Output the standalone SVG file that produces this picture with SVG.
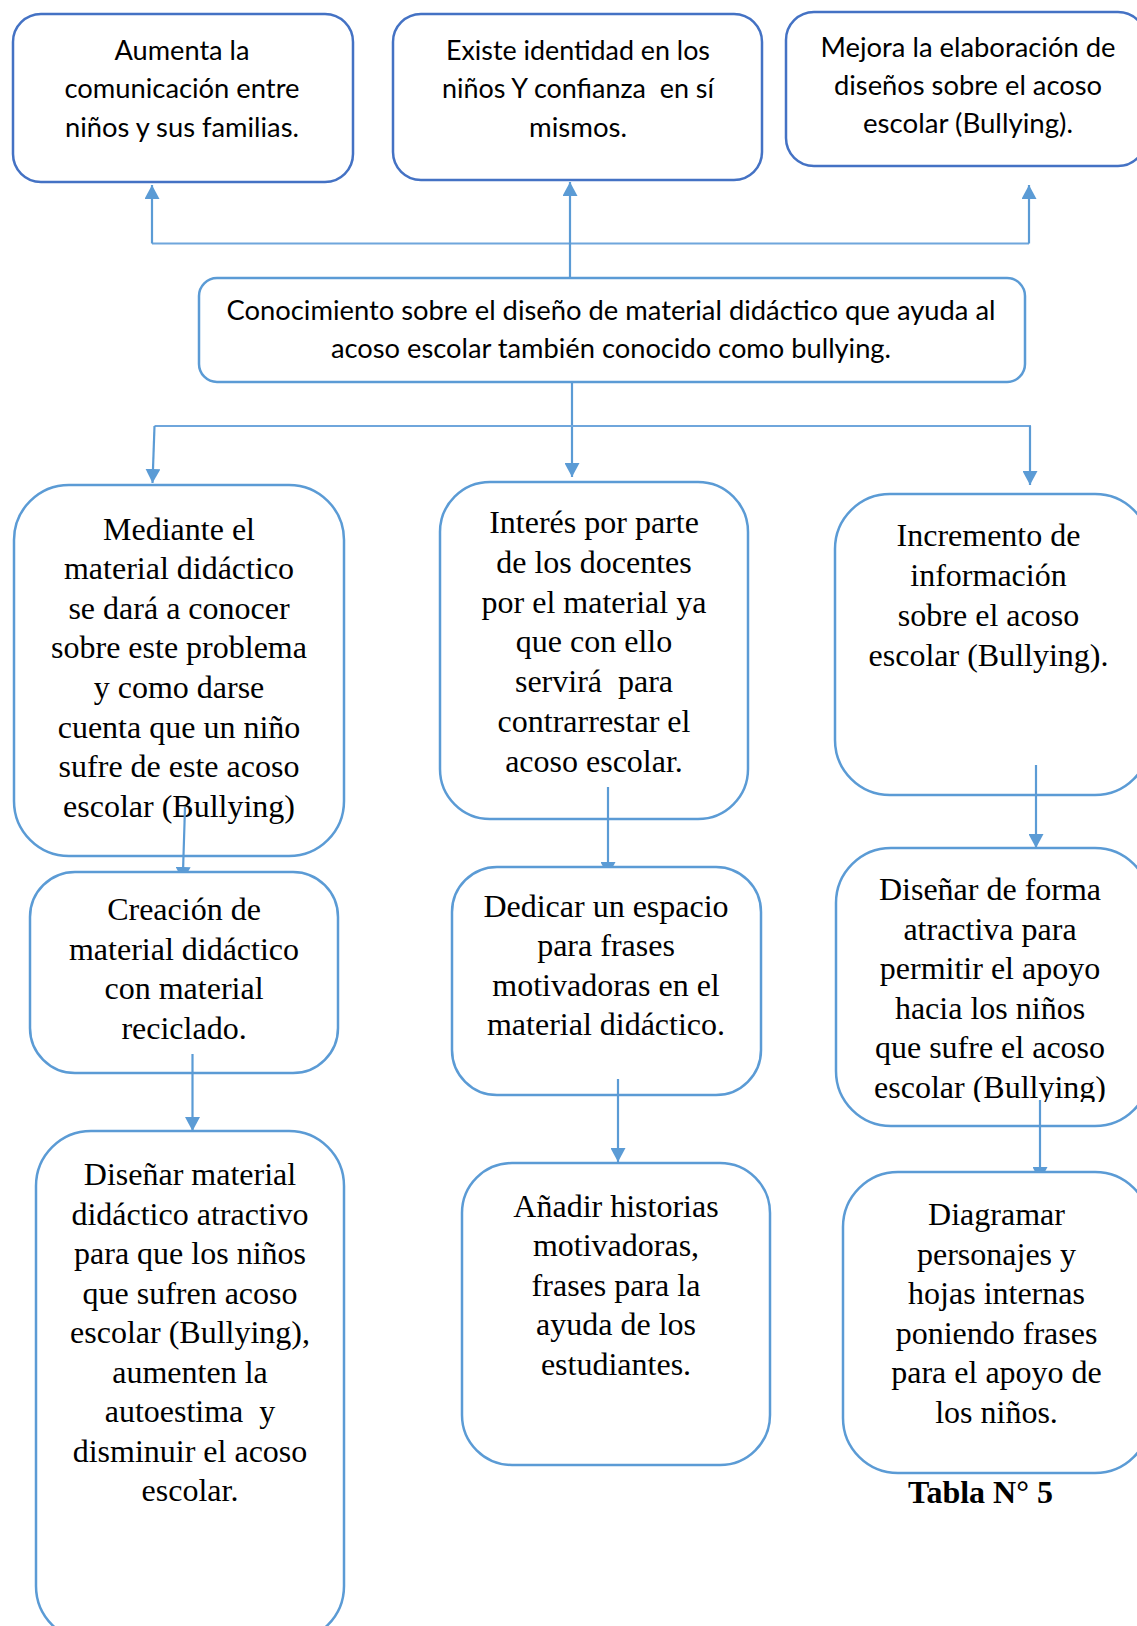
<svg xmlns="http://www.w3.org/2000/svg" width="1137" height="1626" viewBox="0 0 1137 1626">
<style>
.top{fill:#fff;stroke:#4472C4;stroke-width:2.5}
.box{fill:#fff;stroke:#5B9BD5;stroke-width:2.5}
.sans{font-family:Lato,"Liberation Sans",sans-serif;font-size:26px;fill:#000;text-anchor:middle}
.serif{font-family:"Liberation Serif","Times New Roman",serif;font-size:32px;fill:#000;text-anchor:middle}
.bold{font-family:"Liberation Serif","Times New Roman",serif;font-size:32px;font-weight:bold;fill:#000;text-anchor:middle}
.con{fill:none;stroke:#5B9BD5;stroke-width:2.2}
.thin{fill:none;stroke:#6FA6DC;stroke-width:1.8}
</style>
<defs>
<marker id="arr" markerUnits="userSpaceOnUse" markerWidth="14" markerHeight="15" viewBox="0 0 14 15" refX="14" refY="7.5" orient="auto">
<path d="M0,0 L14,7.5 L0,15 z" fill="#5B9BD5"/>
</marker>
<marker id="cut" markerUnits="userSpaceOnUse" markerWidth="5" markerHeight="15" viewBox="0 0 5 15" refX="5" refY="7.5" orient="auto">
<path d="M0,0 L5,2.7 L5,12.3 L0,15 z" fill="#5B9BD5"/>
</marker>
<clipPath id="clipForma"><rect x="830" y="840" width="320" height="262"/></clipPath>
</defs>

<g id="n-aumenta">
<rect class="top" x="13" y="14" width="340" height="168" rx="28"/>
<text class="sans" x="182" y="60" textLength="135" lengthAdjust="spacingAndGlyphs">Aumenta la</text>
<text class="sans" x="182" y="98.3" textLength="235" lengthAdjust="spacingAndGlyphs">comunicación entre</text>
<text class="sans" x="182" y="136.7" textLength="234" lengthAdjust="spacingAndGlyphs">niños y sus familias.</text>
</g>

<g id="n-existe">
<rect class="top" x="393" y="14" width="369" height="166" rx="28"/>
<text class="sans" x="578" y="60" textLength="264" lengthAdjust="spacingAndGlyphs">Existe identidad en los</text>
<text class="sans" x="578" y="98.3" textLength="272" lengthAdjust="spacingAndGlyphs" xml:space="preserve">niños Y confianza  en sí</text>
<text class="sans" x="578" y="136.7" textLength="98" lengthAdjust="spacingAndGlyphs">mismos.</text>
</g>

<g id="n-mejora">
<rect class="top" x="786" y="12" width="360" height="154" rx="28"/>
<text class="sans" x="968" y="56.7" textLength="295" lengthAdjust="spacingAndGlyphs">Mejora la elaboración de</text>
<text class="sans" x="968" y="95" textLength="268" lengthAdjust="spacingAndGlyphs">diseños sobre el acoso</text>
<text class="sans" x="968" y="133.3" textLength="210" lengthAdjust="spacingAndGlyphs">escolar (Bullying).</text>
</g>

<g id="n-conocimiento">
<rect class="box" x="199" y="278" width="826" height="104" rx="18"/>
<text class="sans" x="611" y="320" textLength="769" lengthAdjust="spacingAndGlyphs">Conocimiento sobre el diseño de material didáctico que ayuda al</text>
<text class="sans" x="611" y="358.3" textLength="560" lengthAdjust="spacingAndGlyphs">acoso escolar también conocido como bullying.</text>
</g>

<g id="n-mediante">
<rect class="box" x="14" y="485" width="330" height="371" rx="55"/>
<text class="serif" x="179" y="539.5">Mediante el</text>
<text class="serif" x="179" y="579.1">material didáctico</text>
<text class="serif" x="179" y="618.7">se dará a conocer</text>
<text class="serif" x="179" y="658.3">sobre este problema</text>
<text class="serif" x="179" y="697.9">y como darse</text>
<text class="serif" x="179" y="737.5">cuenta que un niño</text>
<text class="serif" x="179" y="777.1">sufre de este acoso</text>
<text class="serif" x="179" y="816.7">escolar (Bullying)</text>
</g>

<g id="n-interes">
<rect class="box" x="440" y="482" width="308" height="337" rx="50"/>
<text class="serif" x="594" y="533.3">Interés por parte</text>
<text class="serif" x="594" y="573">de los docentes</text>
<text class="serif" x="594" y="612.7">por el material ya</text>
<text class="serif" x="594" y="652.4">que con ello</text>
<text class="serif" x="594" y="692.1" xml:space="preserve">servirá  para</text>
<text class="serif" x="594" y="731.8">contrarrestar el</text>
<text class="serif" x="594" y="771.5">acoso escolar.</text>
</g>

<g id="n-incremento">
<rect class="box" x="835" y="494" width="315" height="301" rx="55"/>
<text class="serif" x="988.5" y="546">Incremento de</text>
<text class="serif" x="988.5" y="586">información</text>
<text class="serif" x="988.5" y="626">sobre el acoso</text>
<text class="serif" x="988.5" y="665.5">escolar (Bullying).</text>
</g>

<g id="n-creacion">
<rect class="box" x="30" y="872" width="308" height="201" rx="45"/>
<text class="serif" x="184" y="920">Creación de</text>
<text class="serif" x="184" y="959.5">material didáctico</text>
<text class="serif" x="184" y="999">con material</text>
<text class="serif" x="184" y="1038.5">reciclado.</text>
</g>

<g id="n-dedicar">
<rect class="box" x="452" y="867" width="309" height="228" rx="45"/>
<text class="serif" x="606" y="916.7">Dedicar un espacio</text>
<text class="serif" x="606" y="956">para frases</text>
<text class="serif" x="606" y="995.5">motivadoras en el</text>
<text class="serif" x="606" y="1035">material didáctico.</text>
</g>

<g id="n-forma">
<rect class="box" x="836" y="848" width="314" height="278" rx="55"/>
<g clip-path="url(#clipForma)">
<text class="serif" x="990" y="900">Diseñar de forma</text>
<text class="serif" x="990" y="939.5">atractiva para</text>
<text class="serif" x="990" y="979">permitir el apoyo</text>
<text class="serif" x="990" y="1018.5">hacia los niños</text>
<text class="serif" x="990" y="1058">que sufre el acoso</text>
<text class="serif" x="990" y="1097.5">escolar (Bullying)</text>
</g>
</g>

<g id="n-disenar">
<rect class="box" x="36" y="1131" width="308" height="510" rx="55"/>
<text class="serif" x="190" y="1185">Diseñar material</text>
<text class="serif" x="190" y="1224.5">didáctico atractivo</text>
<text class="serif" x="190" y="1264">para que los niños</text>
<text class="serif" x="190" y="1303.5">que sufren acoso</text>
<text class="serif" x="190" y="1343">escolar (Bullying),</text>
<text class="serif" x="190" y="1382.5">aumenten la</text>
<text class="serif" x="190" y="1422" xml:space="preserve">autoestima  y</text>
<text class="serif" x="190" y="1461.5">disminuir el acoso</text>
<text class="serif" x="190" y="1501">escolar.</text>
</g>

<g id="n-anadir">
<rect class="box" x="462" y="1163" width="308" height="302" rx="50"/>
<text class="serif" x="616" y="1216.7">Añadir historias</text>
<text class="serif" x="616" y="1256">motivadoras,</text>
<text class="serif" x="616" y="1295.5">frases para la</text>
<text class="serif" x="616" y="1335">ayuda de los</text>
<text class="serif" x="616" y="1374.5">estudiantes.</text>
</g>

<g id="n-diagramar">
<rect class="box" x="843" y="1172" width="307" height="301" rx="55"/>
<text class="serif" x="996.5" y="1225">Diagramar</text>
<text class="serif" x="996.5" y="1264.5">personajes y</text>
<text class="serif" x="996.5" y="1304">hojas internas</text>
<text class="serif" x="996.5" y="1343.5">poniendo frases</text>
<text class="serif" x="996.5" y="1383">para el apoyo de</text>
<text class="serif" x="996.5" y="1422.5">los niños.</text>
</g>

<g id="caption">
<text class="bold" x="980.5" y="1503">Tabla N° 5</text>
</g>

<g id="connectors">
<path class="thin" d="M152,243.5 H1029"/>
<path class="con" d="M152,243.5 V185" marker-end="url(#arr)"/>
<path class="con" d="M1029,243.5 V185" marker-end="url(#arr)"/>
<path class="con" d="M570,278 V182" marker-end="url(#arr)"/>
<path class="con" d="M572,382 V477" marker-end="url(#arr)"/>
<path class="thin" d="M154.5,426 H1031"/>
<path class="con" d="M154.5,426 L152.5,483" marker-end="url(#arr)"/>
<path class="con" d="M1030,426 V485" marker-end="url(#arr)"/>
<path class="con" d="M185,807 L183,872" marker-end="url(#cut)"/>
<path class="con" d="M608,787 V867" marker-end="url(#cut)"/>
<path class="con" d="M1036,765 V848" marker-end="url(#arr)"/>
<path class="con" d="M192.5,1054 V1131" marker-end="url(#arr)"/>
<path class="con" d="M618,1079 V1162" marker-end="url(#arr)"/>
<path class="con" d="M1040,1100 V1172" marker-end="url(#cut)"/>
</g>
</svg>
